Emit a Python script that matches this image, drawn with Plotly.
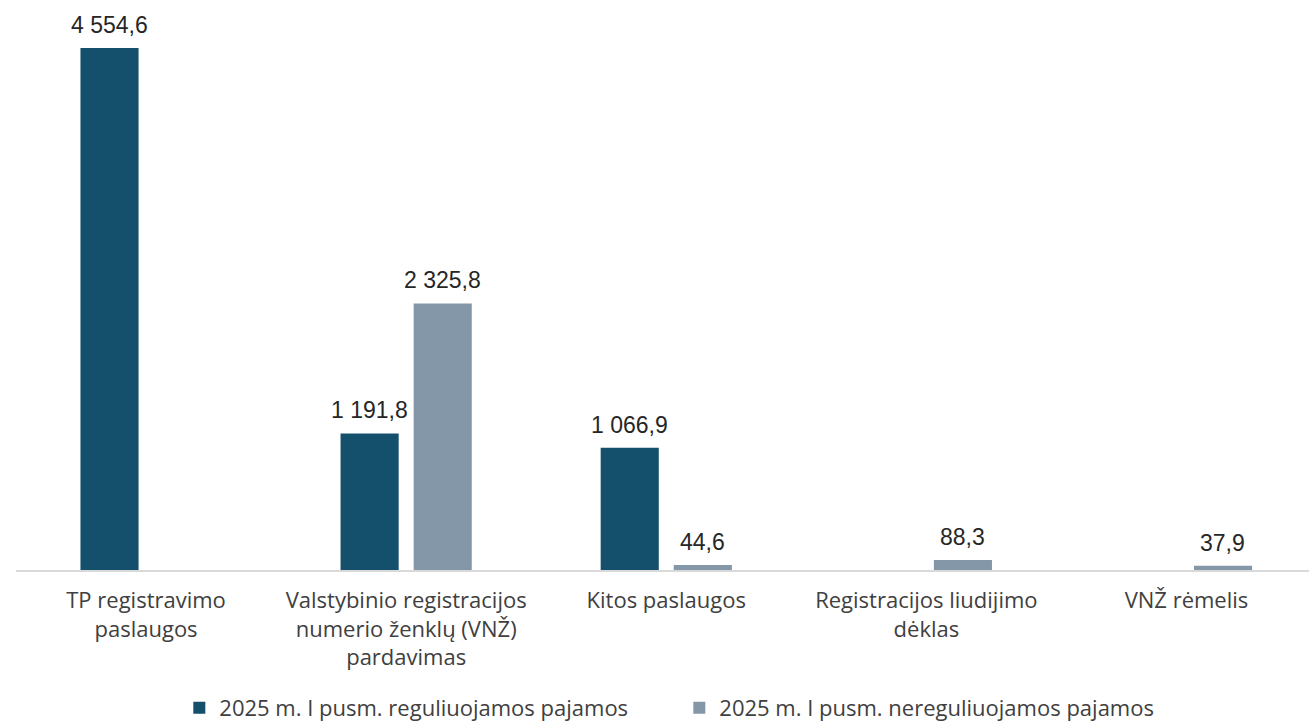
import plotly.graph_objects as go

categories = [
    "TP registravimo<br>paslaugos",
    "Valstybinio registracijos<br>numerio ženklų (VNŽ)<br>pardavimas",
    "Kitos paslaugos",
    "Registracijos liudijimo<br>dėklas",
    "VNŽ rėmelis",
]
series_names = [
    "2025 m. I pusm. reguliuojamos pajamos",
    "2025 m. I pusm. nereguliuojamos pajamos",
]
regulated = [4554.6, 1191.8, 1066.9, None, None]
unregulated = [None, 2325.8, 44.6, 88.3, 37.9]
label_regulated = ["4 554,6", "1 191,8", "1 066,9", None, None]
label_unregulated = [None, "2 325,8", "44,6", "88,3", "37,9"]

colors = ["#14506C", "#8497A8"]
text_font = "Open Sans"

fig = go.Figure()
fig.add_trace(go.Bar(x=categories, y=regulated, name=series_names[0],
                     marker=dict(color=colors[0], line=dict(width=0))))
fig.add_trace(go.Bar(x=categories, y=unregulated, name=series_names[1],
                     marker=dict(color=colors[1], line=dict(width=0))))

annotations = []
for vals, labels, shift in [(regulated, label_regulated, -36.5),
                            (unregulated, label_unregulated, 36.5)]:
    for c, v, t in zip(categories, vals, labels):
        if v is None:
            continue
        annotations.append(dict(x=c, y=v, xref="x", yref="y", text=t,
                                showarrow=False, xshift=shift, yshift=8,
                                yanchor="bottom", xanchor="center",
                                font=dict(family="Liberation Sans, Arial", size=23, color="#262626")))

fig.update_layout(
    width=1309, height=721,
    margin=dict(l=16, r=0, t=20, b=151, autoexpand=False),
    paper_bgcolor="white", plot_bgcolor="white",
    barmode="group", bargap=0.438, bargroupgap=0.205,
    showlegend=True,
    legend=dict(orientation="h", x=0.513, xanchor="center", y=-0.251, yanchor="middle",
                font=dict(family=text_font, size=22, color="#404040"),
                itemwidth=30, traceorder="normal",
                entrywidth=455, entrywidthmode="pixels"),
    annotations=annotations,
    xaxis=dict(type="category", range=[-0.5, 4.471], showline=True, linecolor="#D9D9D9",
               linewidth=1.5, ticks="", showgrid=False, zeroline=False,
               tickfont=dict(family=text_font, size=22, color="#404040"),
               ticklabelstandoff=10),
    yaxis=dict(range=[0, 4799], visible=False, showgrid=False, zeroline=False),
)

fig.write_html("out.html", config={"displayModeBar": False},
               post_script="document.body.style.margin='0';")
